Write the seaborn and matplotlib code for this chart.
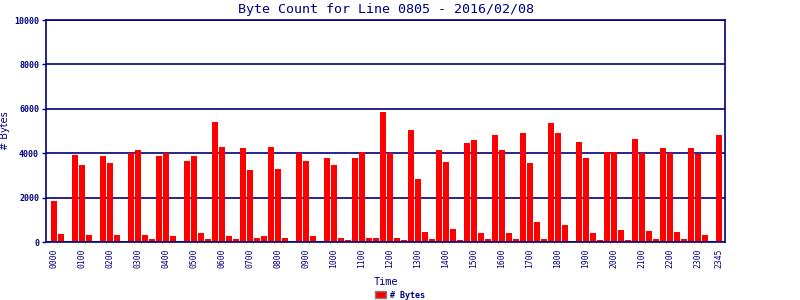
import numpy as np
import pandas as pd
import seaborn as sns
import matplotlib
matplotlib.use("Agg")
import matplotlib.pyplot as plt
from matplotlib.patches import Patch

# 15-minute slots, 0000 .. 2345
times = [f"{h:02d}{m:02d}" for h in range(24) for m in (0, 15, 30, 45)]
byte_counts = [
    1850, 360, 0, 3910, 3460, 315, 0, 3870, 3550, 315, 0, 4000,
    4140, 315, 135, 3870, 4000, 270, 0, 3640, 3870, 405, 135, 5400,
    4270, 270, 135, 4230, 3240, 180, 270, 4270, 3285, 180, 0, 4000,
    3640, 270, 0, 3780, 3460, 180, 90, 3780, 4050, 180, 180, 5850,
    4000, 180, 90, 5040, 2835, 450, 135, 4140, 3600, 585, 90, 4455,
    4590, 405, 135, 4815, 4140, 405, 135, 4905, 3550, 900, 135, 5355,
    4905, 765, 0, 4500, 3780, 405, 90, 4050, 4050, 540, 90, 4630,
    4000, 495, 135, 4230, 4000, 450, 135, 4230, 3960, 315, 0, 4815,
]
tick_labels = [f"{h:02d}00" for h in range(24)] + ["2345"]
y_ticks = [0, 2000, 4000, 6000, 8000, 10000]

navy = "#000080"
df = pd.DataFrame({"Time": times, "Bytes": byte_counts})

sns.set_theme(style="white")
plt.rcParams["font.family"] = ["DejaVu Sans Mono", "DejaVu Sans"]

fig = plt.figure(figsize=(8, 3), dpi=100)
ax = fig.add_axes([46 / 800, 1 - 242 / 300, (725 - 46) / 800, (242 - 20) / 300])

sns.barplot(data=df, x="Time", y="Bytes", color="#ff0000", saturation=1,
            width=0.86, ax=ax)
for p in ax.patches:
    p.set_zorder(3)
    p.set_linewidth(0)

ax.set_xlim(-1.14, 95.86)
ax.set_ylim(0, 10000)
ax.set_yticks(y_ticks)
ax.set_yticklabels([str(v) for v in y_ticks], fontsize=6, color=navy,
                   fontweight="bold")
tick_pos = [times.index(t) for t in tick_labels]
ax.set_xticks(tick_pos)
ax.set_xticklabels(tick_labels, rotation=90, fontsize=5.8, color=navy)
ax.tick_params(axis="x", length=0, pad=5)
ax.tick_params(axis="y", length=3, width=1, color=navy, pad=2, direction="out",
               left=True)
ax.grid(axis="y", color=navy, linewidth=1.2, zorder=1)
ax.set_axisbelow(True)
for s in ax.spines.values():
    s.set_visible(True)
    s.set_color(navy)
    s.set_linewidth(1.2)
    s.set_zorder(4)

ax.set_title("Byte Count for Line 0805 - 2016/02/08", fontsize=9.6, color=navy,
             pad=5)
ax.set_xlabel("Time", fontsize=7.4, color=navy)
ax.xaxis.set_label_coords(0.5, -(277 - 242) / 222)
ax.set_ylabel("# Bytes", fontsize=7, color=navy, family="DejaVu Sans")
ax.yaxis.set_label_coords(-(46 - 10.5) / 679, 0.5)

handles = [Patch(facecolor="#ff0000", edgecolor="#808080", linewidth=1)]
fig.legend(handles, ["# Bytes"], loc="center", bbox_to_anchor=(0.5, 1 - 295 / 300),
           frameon=False, prop={"size": 6, "weight": "bold"},
           handlelength=1.3, handleheight=0.9,
           handletextpad=0.4, labelcolor=navy, borderpad=0)

fig.savefig("out.png", dpi=100)
